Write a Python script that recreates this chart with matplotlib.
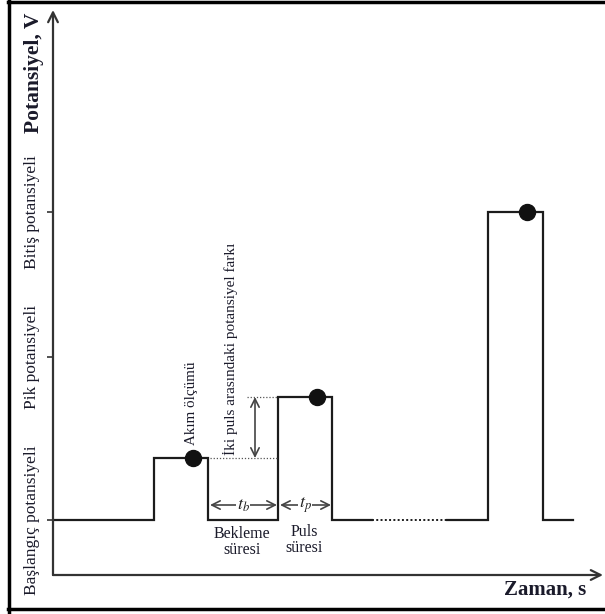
import matplotlib.pyplot as plt
from matplotlib.lines import Line2D

plt.rcParams['font.family'] = ['Liberation Serif', 'DejaVu Serif']
plt.rcParams['mathtext.fontset'] = 'stix'

# Potential levels (arbitrary units)
v_start = 55
v_pulse1 = 117
v_pulse2 = 178
v_peak = 218
v_end = 363

# Step waveform, solid parts (time in arbitrary units)
t_part1 = [0, 101, 101, 155, 155, 225, 225, 279, 279, 319]
v_part1 = [v_start, v_start, v_pulse1, v_pulse1, v_start, v_start, v_pulse2, v_pulse2, v_start, v_start]
t_gap = [319, 394]
v_gap = [v_start, v_start]
t_part2 = [394, 435, 435, 490, 490, 520]
v_part2 = [v_start, v_start, v_end, v_end, v_start, v_start]

# Current sampling points
t_dots = [140, 264, 474]
v_dots = [v_pulse1, v_pulse2, v_end]

ytick_vals = [v_start, v_peak, v_end]
ytick_labels = ['Başlangıç potansiyeli', 'Pik potansiyeli', 'Bitiş potansiyeli']

fig = plt.figure(figsize=(6.05, 6.14), dpi=100)
ax = fig.add_axes([53/605, 39/614, 550/605, 565/614])
ax.set_xlim(0, 550)
ax.set_ylim(0, 565)
for s in ax.spines.values():
    s.set_visible(False)

# axis arrows
arrow_kw = dict(arrowstyle='->,head_length=0.7,head_width=0.35', lw=1.6, color='#333333',
                shrinkA=0, shrinkB=0)
ax.annotate('', xy=(0, 1), xytext=(0, 0), xycoords='axes fraction', arrowprops=arrow_kw)
ax.annotate('', xy=(1, 0), xytext=(0, 0), xycoords='axes fraction', arrowprops=arrow_kw)

# waveform
ax.plot(t_part1, v_part1, color='#1c1c1c', lw=1.6, solid_joinstyle='miter')
ax.plot(t_gap, v_gap, color='#1c1c1c', lw=1.4, ls=(0, (1, 1.2)))
ax.plot(t_part2, v_part2, color='#1c1c1c', lw=1.6, solid_joinstyle='miter')
ax.plot(t_dots, v_dots, 'o', color='#111111', ms=11.5, zorder=5)

# potential difference guides
ax.plot([157, 225], [v_pulse1, v_pulse1], color='#555555', lw=0.9, ls=(0, (1, 1.5)))
ax.plot([194, 225], [v_pulse2, v_pulse2], color='#555555', lw=0.9, ls=(0, (1, 1.5)))
dbl = dict(arrowstyle='<->,head_length=0.6,head_width=0.3', lw=1.2, color='#444444',
           shrinkA=0, shrinkB=0)
ax.annotate('', xy=(202, v_pulse2), xytext=(202, v_pulse1), arrowprops=dbl)

# time spans
ax.annotate('', xy=(157, 70), xytext=(224, 70), arrowprops=dbl)
ax.annotate('', xy=(227, 70), xytext=(278, 70), arrowprops=dbl)
ax.text(190, 70, '$t_b$', ha='center', va='center', fontsize=13, color='#222222',
        bbox=dict(fc='white', ec='none', pad=0.5))
ax.text(252, 70, '$t_p$', ha='center', va='center', fontsize=13, color='#222222',
        bbox=dict(fc='white', ec='none', pad=0.5))
ax.text(189, 33, 'Bekleme\nsüresi', ha='center', va='center', fontsize=11.5,
        linespacing=0.95, color='#1a1a2a')
ax.text(251, 35, 'Puls\nsüresi', ha='center', va='center', fontsize=11.5,
        linespacing=0.95, color='#1a1a2a')

ax.text(139, 130, 'Akım ölçümü', rotation=90, ha='center', va='bottom', fontsize=10.8,
        color='#1a1a2a')
ax.text(177, 120, 'İki puls arasındaki potansiyel farkı', rotation=90, ha='center',
        va='bottom', fontsize=11, color='#1a1a2a')

# y ticks
ax.set_xticks([])
ax.set_yticks(ytick_vals)
ax.set_yticklabels(ytick_labels, rotation=90, va='center', fontsize=12.5, color='#1a1a2a')
ax.tick_params(axis='y', length=4.5, width=1.2, color='#333333', pad=4.5)

# axis titles
ax.text(-19, 562, 'Potansiyel, V', rotation=90, ha='center', va='top', fontsize=15.5,
        fontweight='bold', color='#1a1a2a', clip_on=False)
ax.text(533, -15, 'Zaman, s', ha='right', va='center', fontsize=15,
        fontweight='bold', color='#1a1a2a', clip_on=False)

# frame around the picture
fig.add_artist(Line2D([9/605, 9/605], [0, 1], color='black', lw=2.5, transform=fig.transFigure))
fig.add_artist(Line2D([8/605, 1], [1 - 1.5/614, 1 - 1.5/614], color='black', lw=2.5,
                      transform=fig.transFigure))
fig.add_artist(Line2D([8/605, 1], [5.5/614, 5.5/614], color='black', lw=2.5,
                      transform=fig.transFigure))

fig.savefig('out.png', dpi=100)
plt.close(fig)
